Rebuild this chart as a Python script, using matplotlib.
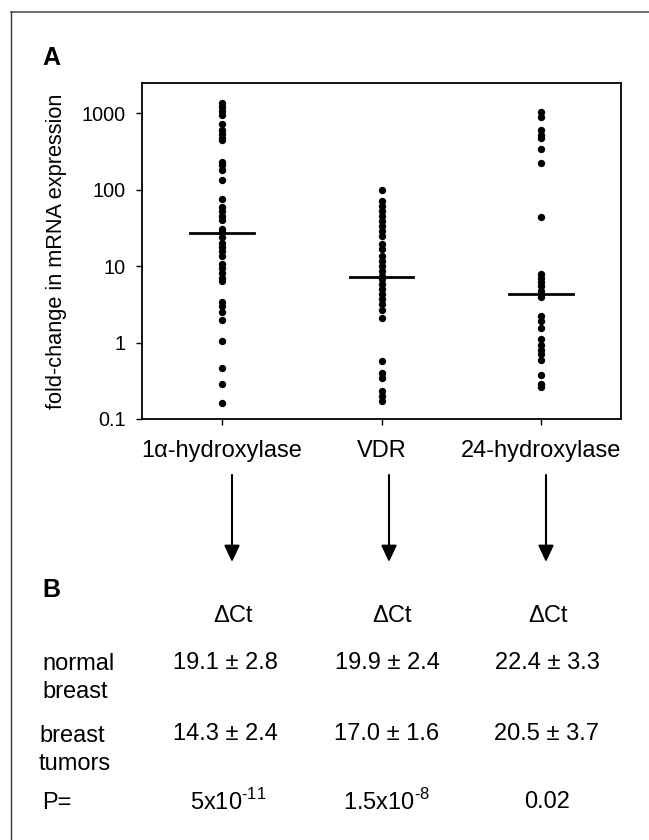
import matplotlib
matplotlib.use("Agg")
import matplotlib.pyplot as plt
from matplotlib.patches import FancyArrowPatch
from matplotlib.lines import Line2D

plt.rcParams['font.family'] = ['Liberation Sans', 'DejaVu Sans']
plt.rcParams['mathtext.fontset'] = 'custom'
plt.rcParams['mathtext.rm'] = 'Liberation Sans'

# ---------------- data ----------------
categories = ["1\u03b1-hydroxylase", "VDR", "24-hydroxylase"]

hydroxylase_1a = [1380, 1220, 1080, 950, 717, 615, 545, 483, 443, 231, 209, 179, 135,
                  76, 59, 52, 46, 40, 31, 27.7, 23.8, 20.4, 17.9, 15.9, 13.7, 10.6, 9.4,
                  8.2, 7.1, 6.4, 3.4, 3.0, 2.5, 1.95, 1.04, 0.46, 0.29, 0.16]
vdr = [98, 72, 62, 53, 46, 39.6, 34, 29, 25, 19.5, 16.7, 13.7, 11.8, 10.1, 8.7, 7.4,
       6.7, 5.8, 5.0, 4.3, 3.7, 3.2, 2.7, 2.1, 0.57, 0.40, 0.34, 0.23, 0.20, 0.17]
hydroxylase_24 = [1050, 900, 600, 518, 470, 346, 224, 43.6, 8.0, 7.1, 6.3, 5.5, 4.7,
                  4.0, 2.2, 1.9, 1.55, 1.1, 0.94, 0.81, 0.70, 0.60, 0.38, 0.29, 0.26]
medians = [27, 7.2, 4.3]

y_ticks = [0.1, 1, 10, 100, 1000]
y_tick_labels = ["0.1", "1", "10", "100", "1000"]

table_header = "\u0394Ct"
row_labels = ["normal\nbreast", "breast\ntumors", "P="]
normal_vals = ["19.1 \u00b1 2.8", "19.9 \u00b1 2.4", "22.4 \u00b1 3.3"]
tumor_vals = ["14.3 \u00b1 2.4", "17.0 \u00b1 1.6", "20.5 \u00b1 3.7"]
p_vals = ["5x10$^{\\text{-11}}$", "1.5x10$^{\\text{-8}}$", "0.02"]

# ---------------- figure ----------------
W, H = 649, 840
fig = plt.figure(figsize=(W / 100, H / 100), dpi=100)

def fx(x):
    return x / W

def fy(y):
    return 1 - y / H

ax = fig.add_axes([fx(142), fy(419), fx(621) - fx(142), fy(83) - fy(419)])

series = [hydroxylase_1a, vdr, hydroxylase_24]
for i, vals in enumerate(series):
    ax.plot([i + 1] * len(vals), vals, 'o', color='black', markersize=5.3,
            markeredgewidth=0, linestyle='none')
    ax.plot([i + 1 - 0.2, i + 1 + 0.2], [medians[i], medians[i]], color='black', lw=2.0)

ax.set_yscale('log')
ax.set_ylim(0.1, 2500)
ax.set_xlim(0.5, 3.5)
ax.set_yticks(y_ticks)
ax.set_yticklabels(y_tick_labels, fontsize=14.3)
ax.yaxis.set_minor_locator(matplotlib.ticker.NullLocator())
ax.set_xticks([1, 2, 3])
ax.set_xticklabels(categories, fontsize=17)
ax.tick_params(axis='y', direction='out', length=4, width=1, pad=7.5)
ax.tick_params(axis='x', direction='out', length=4, width=1, pad=11)
for s in ax.spines.values():
    s.set_linewidth(1.3)
ax.set_ylabel("fold-change in mRNA expression", fontsize=15.7, labelpad=11)

# panel letters
fig.text(fx(42), fy(58), "A", fontsize=18, fontweight='bold', ha='left', va='center')
fig.text(fx(42), fy(590), "B", fontsize=18, fontweight='bold', ha='left', va='center')

# arrows
arrow_x = [232, 389, 546]
for x in arrow_x:
    arr = FancyArrowPatch((fx(x), fy(475)), (fx(x), fy(562)), transform=fig.transFigure,
                          arrowstyle='-|>,head_width=0.47,head_length=1.0',
                          mutation_scale=10, lw=1.5, color='black',
                          shrinkA=0, shrinkB=0)
    fig.add_artist(arr)

# table
head_x = [233, 392, 548]
val_x = [225, 387, 547]
p_x = [228, 387, 547]
for x in head_x:
    fig.text(fx(x), fy(616), table_header, fontsize=17, ha='center', va='center')

fig.text(fx(42), fy(678), row_labels[0], fontsize=17, ha='left', va='center', linespacing=1.3)
fig.text(fx(39), fy(750), row_labels[1], fontsize=17, ha='left', va='center', linespacing=1.3)
fig.text(fx(42), fy(803), row_labels[2], fontsize=17, ha='left', va='center')

for x, v in zip(val_x, normal_vals):
    fig.text(fx(x), fy(663), v, fontsize=17, ha='center', va='center')
for x, v in zip(val_x, tumor_vals):
    fig.text(fx(x), fy(734), v, fontsize=17, ha='center', va='center')
for x, v in zip(p_x, p_vals):
    fig.text(fx(x), fy(802), v, fontsize=17, ha='center', va='center')

# partial outer frame (top and left)
fig.add_artist(Line2D([fx(11), 1.0], [fy(12), fy(12)], transform=fig.transFigure,
                      color='#555555', lw=1.2))
fig.add_artist(Line2D([fx(11), fx(11)], [fy(12), 0.0], transform=fig.transFigure,
                      color='#333333', lw=1.0))

fig.savefig("out.png", dpi=100)
